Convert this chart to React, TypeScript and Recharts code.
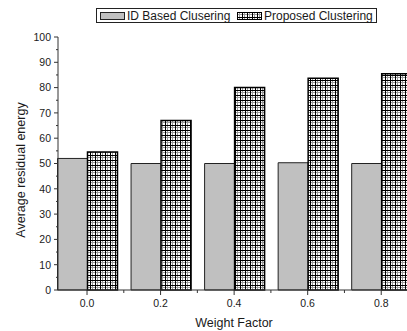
import React from 'react';
import { BarChart, Bar, XAxis, YAxis, Legend } from 'recharts';

const categories = ['0.0', '0.2', '0.4', '0.6', '0.8'];
const idBased = [52, 50, 50, 50.3, 50];
const proposed = [54.5, 67, 80, 83.7, 85.5];
const yTicks = [0, 5, 10, 15, 20, 25, 30, 35, 40, 45, 50, 55, 60, 65, 70, 75, 80, 85, 90, 95, 100];
const seriesNames = ['ID Based Clusering', 'Proposed Clustering'];
const xTitle = 'Weight Factor';
const yTitle = 'Average residual energy';

const data = categories.map((c, i) => ({ x: c, idBased: idBased[i], proposed: proposed[i] }));

const FONT = '"Liberation Sans", Arial, sans-serif';
const AXIS = '#333';
const TEXT = '#1a1a1a';
const X_TS = 5;
const X_TM = 6;
const Y_TS = 4;
const Y_TM = 3;

const XTick = (props: any) => {
  const { x, y, payload } = props;
  const axisY = y - X_TS - X_TM;
  const off = payload && payload.offset ? payload.offset : 0;
  return (
    <g>
      <line x1={x} x2={x} y1={axisY} y2={axisY + 5} stroke={AXIS} strokeWidth={1} />
      {off ? <line x1={x + off} x2={x + off} y1={axisY} y2={axisY + 3} stroke={AXIS} strokeWidth={1} /> : null}
      <text x={x} y={axisY + 17} textAnchor="middle" fontSize={10.5} fontFamily={FONT} fill={TEXT}>
        {payload.value}
      </text>
    </g>
  );
};

const YTick = (props: any) => {
  const { x, y, payload } = props;
  const axisX = x + Y_TS + Y_TM;
  const major = payload.value % 10 === 0;
  return (
    <g>
      <line x1={axisX - (major ? 4 : 2)} x2={axisX} y1={y} y2={y} stroke={AXIS} strokeWidth={1} />
      {major ? (
        <text x={x} y={y + 3.8} textAnchor="end" fontSize={10.5} fontFamily={FONT} fill={TEXT}>
          {payload.value}
        </text>
      ) : null}
    </g>
  );
};

const PatternSwatch = () => (
  <svg width={25} height={8} style={{ display: 'block' }}>
    <rect x={0.5} y={0.5} width={24} height={7} fill="url(#gridPat)" stroke="#000" strokeWidth={1} />
  </svg>
);

const GraySwatch = () => (
  <svg width={25} height={8} style={{ display: 'block' }}>
    <rect x={0.5} y={0.5} width={24} height={7} fill="#c0c0c0" stroke="#222" strokeWidth={1} />
  </svg>
);

const LegendBox = () => (
  <div
    style={{
      position: 'relative',
      boxSizing: 'border-box',
      width: 281,
      height: 15,
      border: '1px solid #222',
      fontFamily: FONT,
      fontSize: 12,
      lineHeight: '13px',
      color: TEXT,
      background: '#fff',
      whiteSpace: 'nowrap',
    }}
  >
    <div style={{ position: 'absolute', left: 3, top: 2.5 }}>
      <GraySwatch />
    </div>
    <span style={{ position: 'absolute', left: 30, top: 1 }}>{seriesNames[0]}</span>
    <div style={{ position: 'absolute', left: 140, top: 2.5 }}>
      <PatternSwatch />
    </div>
    <span style={{ position: 'absolute', left: 167, top: 1 }}>{seriesNames[1]}</span>
  </div>
);

const XTitle = (props: any) => {
  const vb = props.viewBox || {};
  return (
    <text x={vb.x + vb.width / 2 - 4} y={326.5} textAnchor="middle" fontSize={12.5} fontFamily={FONT} fill={TEXT}>
      {xTitle}
    </text>
  );
};

const YTitle = () => {
  const cx = 24.5;
  const cy = 170;
  return (
    <text
      x={cx}
      y={cy}
      transform={`rotate(-90, ${cx}, ${cy})`}
      textAnchor="middle"
      fontSize={12.5}
      fontFamily={FONT}
      fill={TEXT}
    >
      {yTitle}
    </text>
  );
};

export default function App() {
  return (
    <div
      style={{
        position: 'absolute',
        left: 0,
        top: 0,
        width: 407,
        height: 331,
        overflow: 'hidden',
        background: '#fff',
      }}
    >
      <BarChart
        width={418}
        height={331}
        data={data}
        margin={{ top: 37, right: 0, bottom: 0, left: 0 }}
        barCategoryGap={7.25}
        barGap={0}
      >
        <defs>
          <pattern id="gridPat" width={5} height={5} patternUnits="userSpaceOnUse">
            <rect x={0} y={0} width={5} height={5} fill="#fff" />
            <rect x={2} y={0} width={1} height={5} fill="#9a9a9a" />
            <rect x={0} y={2} width={5} height={1} fill="#9a9a9a" />
            <rect x={0} y={0} width={1} height={5} fill="#000" />
            <rect x={0} y={0} width={5} height={1} fill="#000" />
          </pattern>
        </defs>
        <Legend
          verticalAlign="middle"
          layout="horizontal"
          wrapperStyle={{ top: 8, left: 96, width: 281, height: 15 }}
          content={LegendBox}
        />
        <XAxis
          dataKey="x"
          padding={{ left: -7.75, right: 0 }}
          tickLine={false}
          tickSize={X_TS}
          tickMargin={X_TM}
          axisLine={{ stroke: AXIS, strokeWidth: 1 }}
          tick={<XTick />}
          height={41}
          interval={0}
          label={<XTitle />}
        />
        <YAxis
          type="number"
          domain={[0, 100]}
          ticks={yTicks}
          interval={0}
          width={58}
          tickLine={false}
          tickSize={Y_TS}
          tickMargin={Y_TM}
          axisLine={{ stroke: AXIS, strokeWidth: 1 }}
          tick={<YTick />}
          label={<YTitle />}
        />
        <Bar
          dataKey="idBased"
          name={seriesNames[0]}
          fill="#c0c0c0"
          stroke="#222"
          strokeWidth={1}
          isAnimationActive={false}
        />
        <Bar
          dataKey="proposed"
          name={seriesNames[1]}
          fill="url(#gridPat)"
          stroke="#000"
          strokeWidth={1.5}
          isAnimationActive={false}
        />
      </BarChart>
    </div>
  );
}
